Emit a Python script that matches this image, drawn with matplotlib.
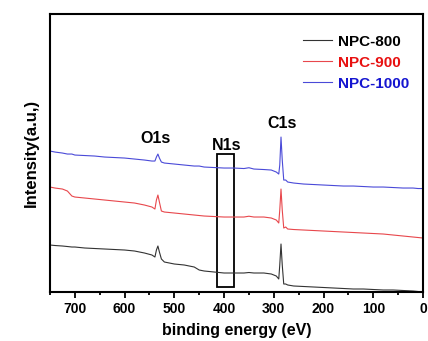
import matplotlib.pyplot as plt
from matplotlib.patches import Rectangle

plt.rcParams['font.family'] = ['Liberation Sans', 'DejaVu Sans']
plt.rcParams['font.weight'] = 'bold'

# binding energy grid (eV)
energy = [750, 740, 725, 715, 706, 700, 680, 660, 640, 620, 600, 580, 560, 545,
          539, 536, 533, 530, 526, 520, 500, 480, 460, 450, 440, 420, 400, 380,
          360, 350, 340, 320, 305, 295, 290, 288, 285.5, 283, 280, 276, 272, 260,
          240, 220, 200, 180, 160, 140, 120, 100, 80, 60, 40, 20, 10, 0]

npc800 = [47, 46.5, 46, 45.5, 45, 45, 44, 43.5, 43, 42.5, 42, 41, 39, 37,
          35, 42, 46, 40, 33, 30, 28, 27, 25, 22, 21, 20, 19, 19,
          19, 19.5, 19, 19, 18, 16, 13, 27, 48, 27, 8, 8, 7, 6,
          5.5, 5, 4.5, 4, 3.5, 3, 3, 2.5, 2, 2, 1.5, 1, 0.5, 0]

npc900 = [105, 104, 103, 101, 96, 95, 94, 93, 92, 91, 90, 89, 87, 85,
          83, 92, 97, 90, 81, 80, 79, 78, 77, 76.5, 76, 75.5, 75, 75,
          75, 75.8, 75, 75, 74, 72, 69, 82, 103, 82, 64, 65, 63, 62.5,
          62, 61.5, 61, 60.5, 60, 59.5, 59, 58.5, 58, 57, 56, 55, 54.5, 54]

npc1000 = [141, 140, 139, 138, 138, 137, 136.5, 136, 135, 134.5, 134, 133, 132, 131,
           131, 135, 138, 134, 130, 129, 128, 127, 126, 126, 125, 124.5, 124, 124,
           123.5, 124.3, 123, 122.5, 122, 120, 118, 127, 155, 132, 112, 112, 110, 109,
           108, 107.5, 107, 106.5, 106, 106, 105.5, 105, 105, 104.5, 104, 104, 103.5, 103.5]

series = [('NPC-800', npc800, '#333333', 'black'),
          ('NPC-900', npc900, '#e8474c', '#e81010'),
          ('NPC-1000', npc1000, '#4a4ad8', '#1515d0')]

fig = plt.figure(figsize=(4.28, 3.41), dpi=100)
ax = fig.add_axes([0.1168, 0.1437, 0.8715, 0.815])

for name, vals, col, tcol in series:
    ax.plot(energy, vals, color=col, lw=0.8, label=name)

ax.set_xlim(750, 0)
ax.set_ylim(0, 278)
ax.set_yticks([])
ax.set_xticks([700, 600, 500, 400, 300, 200, 100, 0])
ax.set_xticks([750, 650, 550, 450, 350, 250, 150, 50], minor=True)
ax.tick_params(axis='x', which='major', direction='out', length=4, width=1.3, labelsize=10)
ax.tick_params(axis='x', which='minor', direction='out', length=2.5, width=1.3)
for s in ax.spines.values():
    s.set_linewidth(1.5)

ax.set_xlabel('binding energy (eV)', fontsize=11.5, fontweight='bold', labelpad=5)
ax.set_ylabel('Intensity(a.u,)', fontsize=12, fontweight='bold', labelpad=8)

# N1s box
ax.add_patch(Rectangle((415, 5), -34, 133, fill=False, ec='black', lw=1.3))

ax.text(538, 154, 'O1s', ha='center', va='center', fontsize=11.5, fontweight='bold')
ax.text(395, 147, 'N1s', ha='center', va='center', fontsize=11.5, fontweight='bold')
ax.text(283, 169, 'C1s', ha='center', va='center', fontsize=11.5, fontweight='bold')

leg = ax.legend(loc='upper right', frameon=False, fontsize=11, handlelength=1.9,
                handletextpad=0.4, labelspacing=0.45, bbox_to_anchor=(1.0, 0.975))
for txt, (name, vals, col, tcol) in zip(leg.get_texts(), series):
    txt.set_color(tcol)
    txt.set_fontweight('bold')

fig.savefig('out.png', dpi=100)
